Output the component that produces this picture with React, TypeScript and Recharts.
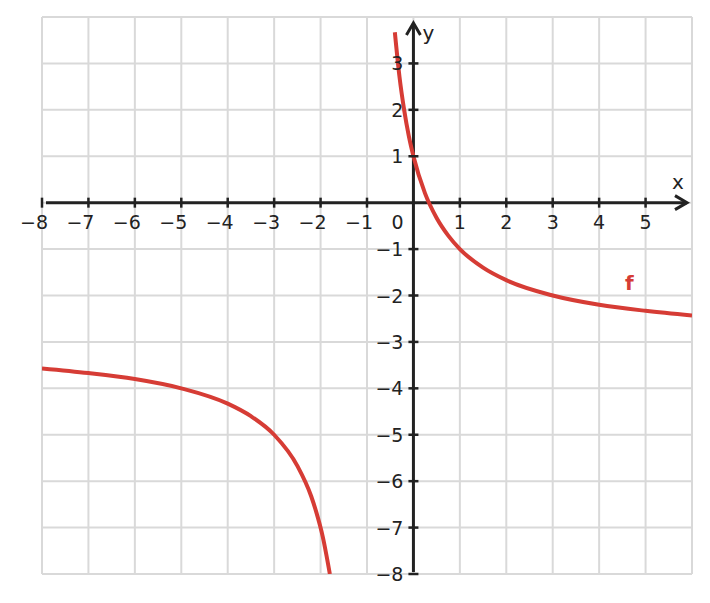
import { LineChart, Line, XAxis, YAxis, CartesianGrid, ReferenceLine, ReferenceDot } from "recharts";

// grid / tick positions
const xTicks = [-8, -7, -6, -5, -4, -3, -2, -1, 0, 1, 2, 3, 4, 5];
const yTicks = [-8, -7, -6, -5, -4, -3, -2, -1, 0, 1, 2, 3];

// points, left of the pole
const leftBranch = [
  { x: -8, y: -3.57 },
  { x: -7, y: -3.67 },
  { x: -6, y: -3.8 },
  { x: -5, y: -4 },
  { x: -4, y: -4.33 },
  { x: -3.5, y: -4.6 },
  { x: -3, y: -5 },
  { x: -2.5, y: -5.67 },
  { x: -2.2, y: -6.33 },
  { x: -2.1, y: -6.64 },
  { x: -1.95, y: -7.21 },
  { x: -1.8, y: -8 },
];

// points, right of the pole
const rightBranch = [
  { x: -0.4, y: 3.67 },
  { x: -0.3, y: 2.71 },
  { x: -0.2, y: 2 },
  { x: -0.1, y: 1.44 },
  { x: 0, y: 1 },
  { x: 0.25, y: 0.2 },
  { x: 0.5, y: -0.33 },
  { x: 0.75, y: -0.71 },
  { x: 1, y: -1 },
  { x: 1.5, y: -1.4 },
  { x: 2, y: -1.67 },
  { x: 3, y: -2 },
  { x: 4, y: -2.2 },
  { x: 5, y: -2.33 },
  { x: 6, y: -2.43 },
];

const AXIS = "#222222";
const CURVE = "#d63c35";
const GRID = "#d9d9d9";
const FONT = "'DejaVu Sans', sans-serif";

function fmt(v: number) {
  return v < 0 ? `\u2212${-v}` : `${v}`;
}

function XArrow(props: any) {
  const { x1, x2, y1 } = props;
  const left = Math.min(x1, x2);
  const tip = Math.max(x1, x2) - 5;
  return (
    <g>
      <line x1={left + 4} y1={y1} x2={tip} y2={y1} stroke={AXIS} strokeWidth={3} />
      <polyline
        points={`${tip - 12},${y1 - 7} ${tip},${y1} ${tip - 12},${y1 + 7}`}
        fill="none"
        stroke={AXIS}
        strokeWidth={3}
      />
      <text x={tip - 9} y={y1 - 14} textAnchor="middle" fontFamily={FONT} fontSize={20} fill={AXIS}>
        x
      </text>
    </g>
  );
}

function YArrow(props: any) {
  const { x1, y1, y2 } = props;
  const bottom = Math.max(y1, y2);
  const tip = Math.min(y1, y2) + 6;
  return (
    <g>
      <line x1={x1} y1={bottom - 2} x2={x1} y2={tip} stroke={AXIS} strokeWidth={3} />
      <polyline
        points={`${x1 - 7},${tip + 12} ${x1},${tip} ${x1 + 7},${tip + 12}`}
        fill="none"
        stroke={AXIS}
        strokeWidth={3}
      />
      <text x={x1 + 9} y={tip + 17} fontFamily={FONT} fontSize={20} fill={AXIS}>
        y
      </text>
    </g>
  );
}

function XTick(v: number) {
  return (props: any) => {
    const { cx, cy } = props;
    const neg = v < 0;
    return (
      <g>
        <line x1={cx} y1={cy - 5} x2={cx} y2={cy + 5} stroke={AXIS} strokeWidth={2.5} />
        <text
          x={neg ? cx + 6 : cx}
          y={cy + 26}
          textAnchor={neg ? "end" : "middle"}
          fontFamily={FONT}
          fontSize={19}
          fill={AXIS}
        >
          {fmt(v)}
        </text>
      </g>
    );
  };
}

function YTick(v: number) {
  return (props: any) => {
    const { cx, cy } = props;
    return (
      <g>
        <line x1={cx - 5} y1={cy} x2={cx + 5} y2={cy} stroke={AXIS} strokeWidth={2.5} />
        <text x={cx - 10} y={cy + 7} textAnchor="end" fontFamily={FONT} fontSize={19} fill={AXIS}>
          {fmt(v)}
        </text>
      </g>
    );
  };
}

function OriginLabel(props: any) {
  const { cx, cy } = props;
  return (
    <text x={cx - 16} y={cy + 26} textAnchor="middle" fontFamily={FONT} fontSize={19} fill={AXIS}>
      0
    </text>
  );
}

function CurveLabel(props: any) {
  const { cx, cy } = props;
  return (
    <text x={cx} y={cy + 8} textAnchor="middle" fontFamily={FONT} fontSize={20} fontWeight="bold" fill={CURVE}>
      f
    </text>
  );
}

export default function App() {
  return (
    <div style={{ position: "absolute", left: 0, top: 0, background: "#fff" }}>
      <LineChart width={710} height={603} margin={{ top: 17, right: 18, bottom: 29, left: 42 }}>
        <XAxis
          type="number"
          dataKey="x"
          domain={[-8, 6]}
          ticks={xTicks}
          interval={0}
          allowDataOverflow
          hide
        />
        <YAxis
          type="number"
          dataKey="y"
          domain={[-8, 4]}
          ticks={yTicks}
          interval={0}
          allowDataOverflow
          hide
        />
        <CartesianGrid stroke={GRID} strokeWidth={2} />
        <ReferenceLine y={0} shape={XArrow} />
        <ReferenceLine x={0} shape={YArrow} />
        {xTicks
          .filter((v) => v !== 0)
          .map((v) => (
            <ReferenceDot key={`xt${v}`} x={v} y={0} r={0} shape={XTick(v)} />
          ))}
        {yTicks
          .filter((v) => v !== 0)
          .map((v) => (
            <ReferenceDot key={`yt${v}`} x={0} y={v} r={0} shape={YTick(v)} />
          ))}
        <ReferenceDot x={0} y={0} r={0} shape={OriginLabel} />
        <Line
          data={leftBranch}
          dataKey="y"
          type="monotone"
          stroke={CURVE}
          strokeWidth={4}
          dot={false}
          isAnimationActive={false}
        />
        <Line
          data={rightBranch}
          dataKey="y"
          type="monotone"
          stroke={CURVE}
          strokeWidth={4}
          dot={false}
          isAnimationActive={false}
        />
        <ReferenceDot x={4.65} y={-1.7} r={0} shape={CurveLabel} />
      </LineChart>
    </div>
  );
}
